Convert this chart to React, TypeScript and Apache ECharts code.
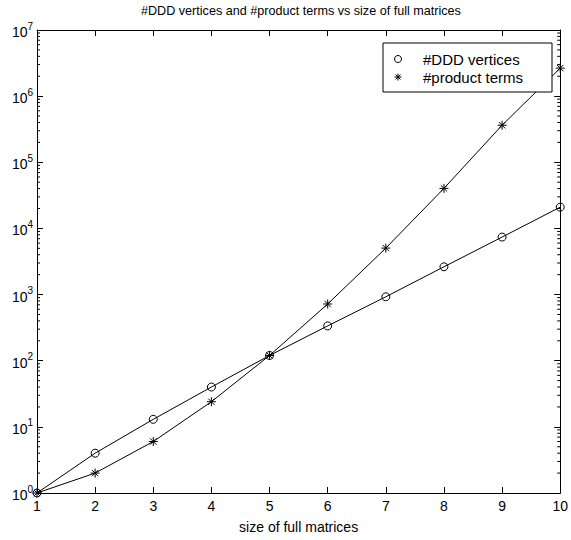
import React, { useEffect, useRef } from "react";
import * as echarts from "echarts";

const sizes = [1, 2, 3, 4, 5, 6, 7, 8, 9, 10];
const dddVertices = [1, 4, 13, 40, 120, 336, 925, 2630, 7400, 21000];
const productTerms = [1, 2, 6, 24, 120, 720, 5040, 40320, 362880, 2650000];
const decadeExponents = [0, 1, 2, 3, 4, 5, 6];
const minorFactors = [2, 3, 4, 5, 6, 7, 8, 9];

const FONT = "Liberation Sans";
const STAR = "path://M0,-5L0,5M-5,0L5,0M-3.5,-3.5L3.5,3.5M-3.5,3.5L3.5,-3.5";

const minorTickValues: number[] = [];
decadeExponents.forEach((e) => minorFactors.forEach((k) => minorTickValues.push(k * Math.pow(10, e))));

export default function App() {
  const ref = useRef<HTMLDivElement>(null);
  useEffect(() => {
    const chart = echarts.init(ref.current!, undefined, { renderer: "svg" });
    const axisLine = { show: true, lineStyle: { color: "#000", width: 1 } };
    const yLabel = {
      fontFamily: FONT,
      color: "#000",
      margin: 4,
      formatter: (v: number) => `{a|10}{b|${Math.round(Math.log10(v))}}`,
      rich: {
        a: { fontFamily: FONT, fontSize: 14, color: "#000", lineHeight: 18, verticalAlign: "bottom" },
        b: { fontFamily: FONT, fontSize: 10, color: "#000", lineHeight: 10, verticalAlign: "top" },
      },
    };
    chart.setOption({
      animation: false,
      backgroundColor: "#fff",
      title: {
        text: "#DDD vertices and #product terms vs size of full matrices",
        left: 141,
        top: 4,
        padding: 0,
        textStyle: { fontFamily: FONT, fontSize: 12.6, fontWeight: "normal", color: "#000" },
      },
      grid: { left: 37, right: 7, top: 30, bottom: 47 },
      xAxis: [
        {
          type: "value",
          min: 1,
          max: 10,
          interval: 1,
          name: "size of full matrices",
          nameLocation: "middle",
          nameGap: 27,
          nameTextStyle: { fontFamily: FONT, fontSize: 14, color: "#000" },
          axisLine,
          axisTick: { inside: true, length: 6, lineStyle: { color: "#000" } },
          axisLabel: { fontFamily: FONT, fontSize: 14, color: "#000", margin: 6 },
          splitLine: { show: false },
        },
        {
          type: "value",
          position: "top",
          min: 1,
          max: 10,
          interval: 1,
          axisLine,
          axisTick: { inside: true, length: 6, lineStyle: { color: "#000" } },
          axisLabel: { show: false },
          splitLine: { show: false },
        },
      ],
      yAxis: [
        {
          type: "log",
          logBase: 10,
          min: 1,
          max: 1e7,
          axisLine,
          axisTick: { inside: true, length: 6, lineStyle: { color: "#000" } },
          axisLabel: yLabel,
          splitLine: { show: false },
        },
        {
          type: "log",
          logBase: 10,
          position: "right",
          min: 1,
          max: 1e7,
          axisLine,
          axisTick: { inside: true, length: 6, lineStyle: { color: "#000" } },
          axisLabel: { show: false },
          splitLine: { show: false },
        },
      ],
      legend: {
        orient: "vertical",
        left: 392,
        top: 50,
        padding: 0,
        itemWidth: 8,
        itemHeight: 7,
        itemGap: 0,
        data: [
          { name: "#DDD vertices", icon: "circle" },
          { name: "#product terms", icon: STAR },
        ],
        textStyle: { fontFamily: FONT, fontSize: 15, color: "#000", lineHeight: 18, padding: [0, 0, 0, 16] },
        itemStyle: { color: "none", borderColor: "#000", borderWidth: 1 },
      },
      graphic: [
        {
          type: "rect",
          z: 3,
          shape: { x: 383, y: 43, width: 169, height: 49 },
          style: { fill: "#fff", stroke: "#000", lineWidth: 1 },
        },
      ],
      series: [
        {
          name: "#DDD vertices",
          type: "line",
          data: sizes.map((s, i) => [s, dddVertices[i]]),
          symbol: "circle",
          symbolSize: 8,
          lineStyle: { color: "#000", width: 1 },
          itemStyle: { color: "none", borderColor: "#000", borderWidth: 1 },
          z: 2,
        },
        {
          name: "#product terms",
          type: "line",
          data: sizes.map((s, i) => [s, productTerms[i]]),
          symbol: STAR,
          symbolSize: 9,
          lineStyle: { color: "#000", width: 1 },
          itemStyle: { color: "none", borderColor: "#000", borderWidth: 1 },
          z: 2,
        },
        {
          name: "minorTicks",
          type: "custom",
          silent: true,
          data: minorTickValues.map((v) => [1, v]),
          encode: { x: 0, y: 1 },
          renderItem: (params: any, api: any) => {
            const y = api.coord([1, api.value(1)])[1];
            const cs = params.coordSys;
            return {
              type: "group",
              children: [
                { type: "line", shape: { x1: cs.x, y1: y, x2: cs.x + 3, y2: y }, style: { stroke: "#000", lineWidth: 1 } },
                {
                  type: "line",
                  shape: { x1: cs.x + cs.width - 3, y1: y, x2: cs.x + cs.width, y2: y },
                  style: { stroke: "#000", lineWidth: 1 },
                },
              ],
            };
          },
        },
      ],
    });
    return () => chart.dispose();
  }, []);
  return <div ref={ref} style={{ position: "absolute", left: 0, top: 0, width: 571, height: 540 }} />;
}
